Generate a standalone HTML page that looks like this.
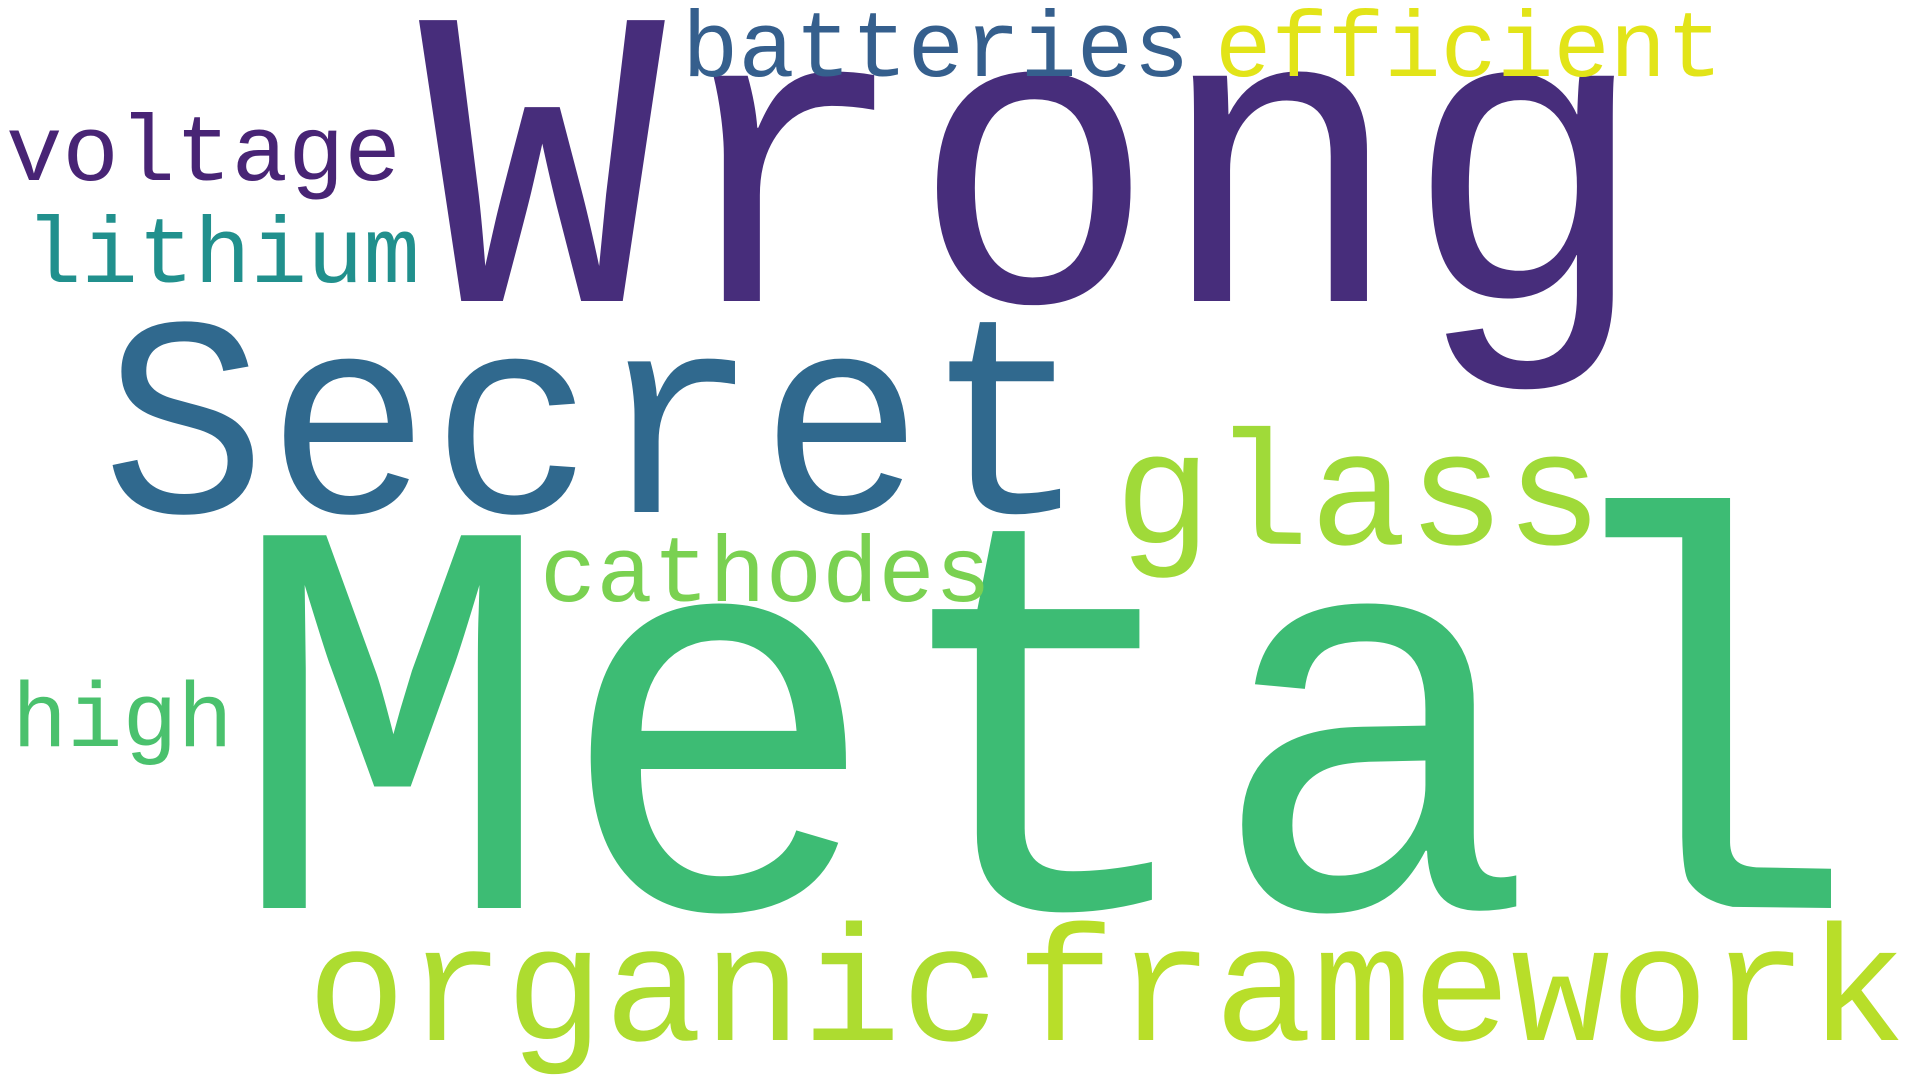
<!DOCTYPE html>
<html><head><meta charset="utf-8"><style>
html,body{margin:0;padding:0;background:#fff;width:1920px;height:1080px;overflow:hidden}
svg{display:block}
text{font-family:"Liberation Mono","DejaVu Sans Mono",monospace}
</style></head><body>
<svg id="cloud" width="1920" height="1080" viewBox="0 0 1920 1080"></svg>
<script>
const words=["Wrong","Metal","Secret","glass","organic","framework","cathodes","batteries","efficient","voltage","lithium","high"];
const sizes=[410,544,274,163,165,165,94,94,94,94,94,92];
const colors=["#472d7b","#3dbc74","#30698e","#a0da39","#addc30","#b8de29","#7ad151","#355f8d","#e2e418","#482475","#21908d","#4ac16d"];
const xs=[419,229,102,1114,307,1016,540,682,1215,6,25,12];
const ys=[301,908,512,544,1040,1040,601,76,76,180,282,746];
const svg=document.getElementById('cloud');
words.forEach((w,i)=>{
  const t=document.createElementNS('http://www.w3.org/2000/svg','text');
  
  
  t.setAttribute('x',xs[i]);
  t.setAttribute('y',ys[i]);
  t.setAttribute('font-size',(sizes[i]*(i<3?1.04:1.0)).toFixed(1));
  t.setAttribute('fill',colors[i]);
  t.setAttribute('textLength',(w.length*0.6*sizes[i]).toFixed(1));
  t.setAttribute('lengthAdjust','spacingAndGlyphs');
  t.textContent=w;
  svg.appendChild(t);
});
</script>
</body></html>
